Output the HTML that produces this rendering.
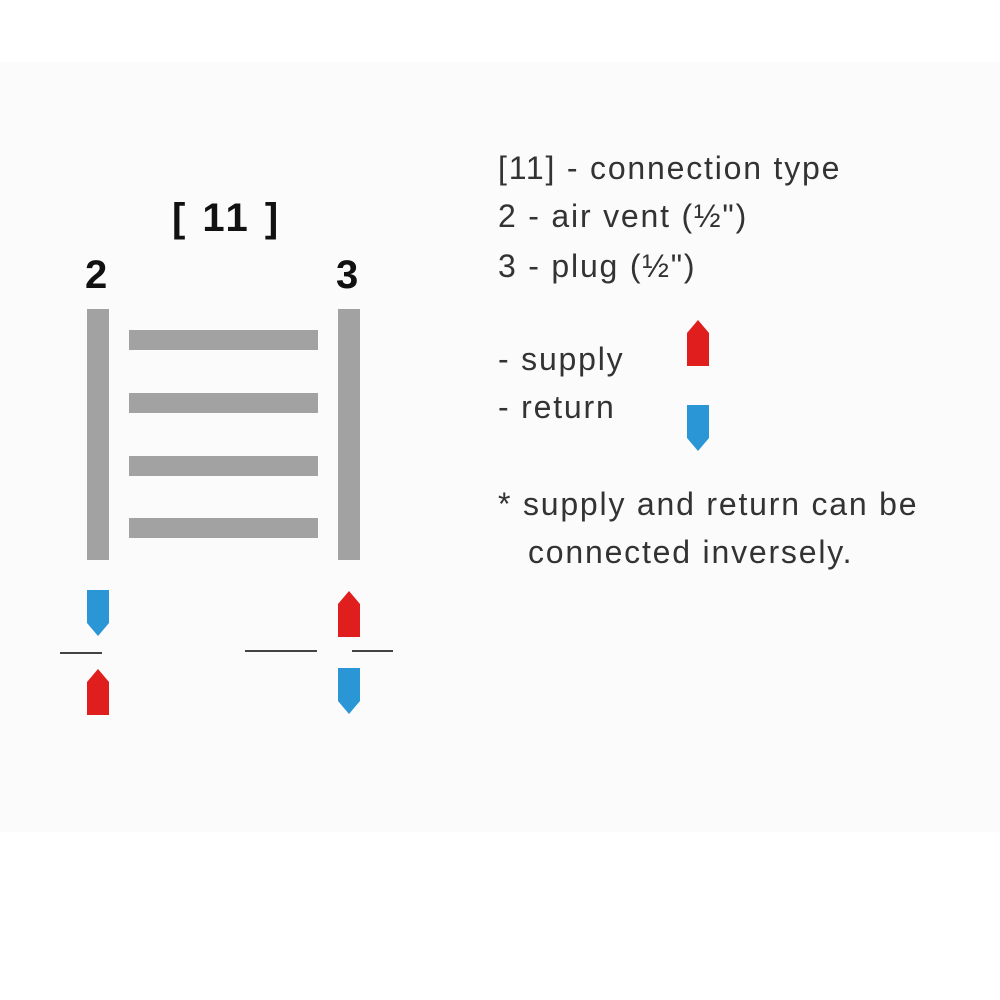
<!DOCTYPE html>
<html><head><style>
body{margin:0;width:1000px;height:1000px;background:#fff;position:relative;overflow:hidden;font-family:"Liberation Sans",sans-serif}
.band{position:absolute;left:0;top:62px;width:1000px;height:770px;background:#fbfbfb}
.t{position:absolute;color:#333;font-size:32px;letter-spacing:1.8px;white-space:nowrap;line-height:1}
.b{position:absolute;color:#111;font-weight:bold;font-size:40px;line-height:1}
.g{position:absolute;background:#a2a2a2}
.l{position:absolute;height:2px;background:#444}
</style></head><body>
<div class="band"></div>
<div class="b" style="left:172px;top:198px;letter-spacing:3px">[ 11 ]</div>
<div class="b" style="left:85px;top:255px">2</div>
<div class="b" style="left:336px;top:255px">3</div>
<div class="g" style="left:87px;top:309px;width:22px;height:251px"></div>
<div class="g" style="left:338px;top:309px;width:22px;height:251px"></div>
<div class="g" style="left:129px;top:330px;width:189px;height:20px"></div>
<div class="g" style="left:129px;top:393px;width:189px;height:20px"></div>
<div class="g" style="left:129px;top:456px;width:189px;height:20px"></div>
<div class="g" style="left:129px;top:518px;width:189px;height:20px"></div>
<svg width="1000" height="1000" style="position:absolute;left:0;top:0">
<defs>
<path id="dn" d="M0 0H22V33L11 46L0 33Z" fill="#2a96d6"/>
<path id="up" d="M0 46H22V13L11 0L0 13Z" fill="#e01e1e"/>
</defs>
<use href="#dn" x="87" y="590"/>
<use href="#up" x="87" y="669"/>
<use href="#up" x="338" y="591"/>
<use href="#dn" x="338" y="668"/>
<use href="#up" x="687" y="320"/>
<use href="#dn" x="687" y="405"/>
</svg>
<div class="l" style="left:60px;top:652px;width:42px"></div>
<div class="l" style="left:245px;top:650px;width:72px"></div>
<div class="l" style="left:352px;top:650px;width:41px"></div>
<div class="t" style="left:498px;top:152px">[11] - connection type</div>
<div class="t" style="left:498px;top:200px">2 - air vent (½")</div>
<div class="t" style="left:498px;top:250px">3 - plug (½")</div>
<div class="t" style="left:498px;top:343px">- supply</div>
<div class="t" style="left:498px;top:391px">- return</div>
<div class="t" style="left:498px;top:488px">* supply and return can be</div>
<div class="t" style="left:528px;top:536px">connected inversely.</div>
</body></html>
